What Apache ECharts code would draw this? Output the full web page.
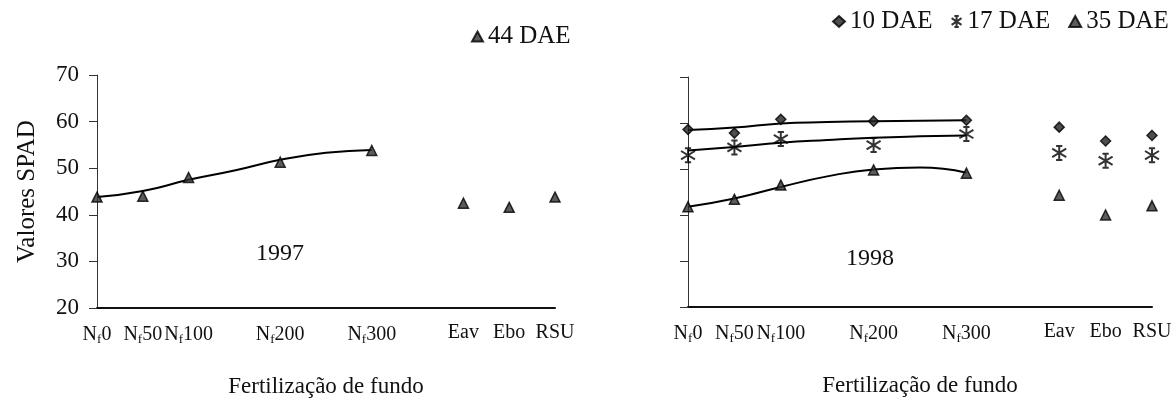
<!DOCTYPE html>
<html>
<head>
<meta charset="utf-8">
<title>Valores SPAD</title>
<script src="https://cdn.jsdelivr.net/npm/echarts@6/dist/echarts.min.js"></script>
<style>
  html, body { margin: 0; padding: 0; background: #fff; }
  #chart { width: 1175px; height: 405px; }
</style>
</head>
<body>
<div id="chart"></div>
<script>
// Treatment positions on the horizontal axis and their labels
const xTickValues = [0, 50, 100, 200, 300, 400, 450, 500];
const xTickLabels = ['Nf0', 'Nf50', 'Nf100', 'Nf200', 'Nf300', 'Eav', 'Ebo', 'RSU'];
const yTickValues = [20, 30, 40, 50, 60, 70];

// 1997 measurements (44 DAE)
const spad1997_44DAE = [43.8, 44.0, 48.0, 51.3, 53.8, 42.5, 41.6, 43.8];

// 1998 measurements
const spad1998_10DAE = [58.6, 57.8, 60.8, 60.4, 60.6, 59.1, 56.1, 57.3];
const spad1998_17DAE = [53.0, 54.7, 56.5, 55.2, 57.6, 53.5, 51.8, 53.0];
const spad1998_35DAE = [41.8, 43.4, 46.5, 49.8, 49.1, 44.3, 40.0, 42.0];

// Fitted trend curves over the N fertilisation doses
const trendX = [0, 50, 100, 150, 200, 250, 300];
const trend1997_44DAE = [43.8, 45.1, 47.5, 49.5, 51.8, 53.3, 53.9];
const trend1998_10DAE = [58.5, 59.0, 59.9, 60.2, 60.4, 60.5, 60.6];
const trend1998_17DAE = [54.0, 54.8, 55.7, 56.3, 56.8, 57.1, 57.3];
const trend1998_35DAE = [41.8, 43.6, 46.1, 48.4, 49.9, 50.3, 49.2];

const FONT = "'Liberation Serif', 'Times New Roman', serif";
const ASTERISK = 'path://M10 0L10 20M6 0L14 0M6 20L14 20M1 4L19 16M1 16L19 4';

const pairs = (xs, ys) => xs.map((x, i) => [x, ys[i]]);

function xLabel(v) {
  const i = xTickValues.indexOf(v);
  if (i < 0) return '';
  return xTickLabels[i].replace(/^Nf/, 'N{f|f}');
}

function xAxis(gridIndex) {
  return {
    type: 'value', gridIndex, min: 0, max: 500, interval: 50,
    axisLine: { show: true, onZero: false, lineStyle: { color: '#111', width: 2 } },
    axisTick: { show: false },
    splitLine: { show: false },
    axisLabel: {
      formatter: xLabel, margin: 15, color: '#111',
      fontFamily: FONT, fontSize: 20,
      rich: { f: { fontFamily: FONT, fontSize: 13, color: '#111', verticalAlign: 'bottom', padding: [10, 0, 0, 0] } }
    },
    name: 'Fertilização de fundo', nameLocation: 'middle', nameGap: 67,
    nameTextStyle: { fontFamily: FONT, fontSize: 23, color: '#111' }
  };
}

function yAxis(gridIndex, showLabels) {
  return {
    type: 'value', gridIndex, min: 20, max: 70, interval: 10,
    axisLine: { show: true, onZero: false, lineStyle: { color: '#333', width: 1 } },
    axisTick: { show: true, inside: false, length: 8, lineStyle: { color: '#333', width: 1 } },
    splitLine: { show: false },
    axisLabel: { show: showLabels, margin: 18, color: '#111', fontFamily: FONT, fontSize: 23 },
    name: showLabels ? 'Valores SPAD' : '', nameLocation: 'middle', nameGap: 57,
    nameTextStyle: { fontFamily: FONT, fontSize: 25, color: '#111' }
  };
}

const pointStyle = { color: '#333', borderColor: '#000', borderWidth: 1.5 };
const diamondStyle = { color: '#222', borderColor: '#000', borderWidth: 1.5 };
const starStyle = { color: '#000', borderColor: '#000', borderWidth: 2 };

function points(name, axisIdx, ys, symbol, size, style) {
  return {
    name, type: 'scatter', xAxisIndex: axisIdx, yAxisIndex: axisIdx,
    data: pairs(xTickValues, ys), symbol, symbolSize: size,
    itemStyle: style, z: 5, silent: true
  };
}

function trend(axisIdx, ys) {
  return {
    type: 'line', xAxisIndex: axisIdx, yAxisIndex: axisIdx,
    data: pairs(trendX, ys), smooth: 0.5, showSymbol: false, symbol: 'none',
    lineStyle: { color: '#000', width: 2 }, z: 3, silent: true
  };
}

const legendText = { fontFamily: FONT, fontSize: 25, color: '#111' };

const chart = echarts.init(document.getElementById('chart'), null, { renderer: 'canvas' });
chart.setOption({
  backgroundColor: '#fff',
  animation: false,
  textStyle: { fontFamily: FONT },
  grid: [
    { left: 97, top: 75, width: 458, height: 233 },
    { left: 688, top: 77, width: 464, height: 230 }
  ],
  xAxis: [xAxis(0), xAxis(1)],
  yAxis: [yAxis(0, true), yAxis(1, false)],
  title: [
    { text: '1997', left: 256, top: 242, padding: 0,
      textStyle: { fontFamily: FONT, fontSize: 24, fontWeight: 'normal', color: '#111' } },
    { text: '1998', left: 846, top: 247, padding: 0,
      textStyle: { fontFamily: FONT, fontSize: 24, fontWeight: 'normal', color: '#111' } }
  ],
  legend: [
    { data: [{ name: '44 DAE', icon: 'triangle' }], left: 471, top: 24, padding: 0,
      itemWidth: 11, itemHeight: 10, textStyle: legendText },
    { data: [
        { name: '10 DAE', icon: 'diamond' },
        { name: '17 DAE', icon: ASTERISK },
        { name: '35 DAE', icon: 'triangle' }
      ],
      left: 832, top: 9, width: 343, padding: 0, itemGap: 18,
      itemWidth: 12, itemHeight: 11, textStyle: legendText }
  ],
  series: [
    trend(0, trend1997_44DAE),
    points('44 DAE', 0, spad1997_44DAE, 'triangle', 10, pointStyle),
    trend(1, trend1998_10DAE),
    trend(1, trend1998_17DAE),
    trend(1, trend1998_35DAE),
    points('10 DAE', 1, spad1998_10DAE, 'diamond', 10, diamondStyle),
    points('17 DAE', 1, spad1998_17DAE, ASTERISK, 14, starStyle),
    points('35 DAE', 1, spad1998_35DAE, 'triangle', 10, pointStyle)
  ]
});
</script>
</body>
</html>
